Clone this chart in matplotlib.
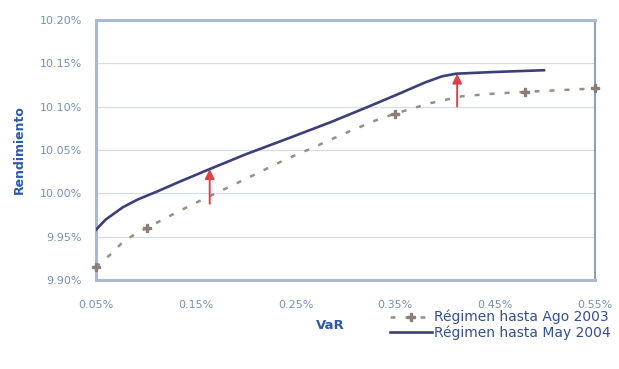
import numpy as np
import matplotlib
matplotlib.use("Agg")
import matplotlib.pyplot as plt
from matplotlib.ticker import FuncFormatter

# frontera VaR / rendimiento (en %)
var_ago03 = [0.050, 0.066, 0.077, 0.092, 0.101, 0.119, 0.148, 0.179, 0.208, 0.238,
             0.268, 0.299, 0.330, 0.350, 0.385, 0.417, 0.449, 0.480, 0.514, 0.550]
ret_ago03 = [9.915, 9.931, 9.944, 9.955, 9.960, 9.971, 9.988, 10.005, 10.021, 10.038,
             10.053, 10.069, 10.084, 10.092, 10.104, 10.112, 10.115, 10.117, 10.119, 10.121]
marker_idx = [0, 4, 13, 17, 19]

var_may04 = [0.050, 0.060, 0.077, 0.092, 0.111, 0.135, 0.164, 0.200, 0.244, 0.285,
             0.321, 0.354, 0.380, 0.397, 0.411, 0.450, 0.499]
ret_may04 = [9.958, 9.970, 9.984, 9.993, 10.002, 10.014, 10.028, 10.045, 10.064, 10.082,
             10.099, 10.115, 10.128, 10.135, 10.138, 10.140, 10.142]

# flechas de desplazamiento (x, y inicio, y fin)
arrow_x = [0.164, 0.412]
arrow_y0 = [9.988, 10.100]
arrow_y1 = [10.028, 10.138]

yticks = [9.90, 9.95, 10.00, 10.05, 10.10, 10.15, 10.20]
xticks = [0.05, 0.15, 0.25, 0.35, 0.45, 0.55]

label_ago = "Régimen hasta Ago 2003"
label_may = "Régimen hasta May 2004"

##########################################################################
fig = plt.figure(figsize=(6.19, 3.69), dpi=100)
ax = fig.add_axes([0.155, 0.241, 0.806, 0.705])

tick_col = "#7A8FB5"
frame_col = "#A9B9D3"

for y in yticks[1:-1]:
    ax.axhline(y, color="#D5DCE8", lw=0.9, zorder=0)

l1, = ax.plot(var_ago03, ret_ago03, color="#9A8E84", lw=1.8,
              dashes=(2, 4), marker="P", markersize=6,
              markevery=marker_idx, markerfacecolor="#8A7F78",
              markeredgecolor="#8A7F78", clip_on=False, zorder=3)
l2, = ax.plot(var_may04, ret_may04, color="#3C3F7A", lw=1.9, zorder=4)

for x, y0, y1 in zip(arrow_x, arrow_y0, arrow_y1):
    ax.annotate("", xy=(x, y1), xytext=(x, y0),
                arrowprops=dict(arrowstyle="-|>", color="#E0404A", lw=1.4,
                                mutation_scale=14, shrinkA=0, shrinkB=0),
                zorder=5)

ax.set_xlim(0.05, 0.55)
ax.set_ylim(9.90, 10.20)
ax.set_xticks(xticks)
ax.set_yticks(yticks)
ax.xaxis.set_major_formatter(FuncFormatter(lambda v, p: f"{v:.2f}%"))
ax.yaxis.set_major_formatter(FuncFormatter(lambda v, p: f"{v:.2f}%"))
ax.tick_params(length=0, labelsize=8, labelcolor=tick_col)
ax.tick_params(axis="x", pad=14)
ax.tick_params(axis="y", pad=10)

for side in ["left", "bottom", "top"]:
    ax.spines[side].set_color(frame_col)
    ax.spines[side].set_linewidth(2.2)
ax.spines["right"].set_color("#8C9CB8")
ax.spines["right"].set_linewidth(1.4)

ax.set_ylabel("Rendimiento", color="#2B5AA8", fontweight="bold",
              fontsize=9, labelpad=10)

fig.text(0.533, 0.118, "VaR", color="#2B5AA8", fontweight="bold",
         fontsize=9.5, ha="center", va="center")

leg = fig.legend([l1, l2], [label_ago, label_may], loc="center right",
                 bbox_to_anchor=(1.0, 0.12), frameon=False, fontsize=10,
                 labelspacing=0.05, handlelength=3.0, handletextpad=0.15,
                 borderaxespad=0.2)
for t in leg.get_texts():
    t.set_color("#34508F")

fig.savefig("out.png", dpi=100)
plt.close()
